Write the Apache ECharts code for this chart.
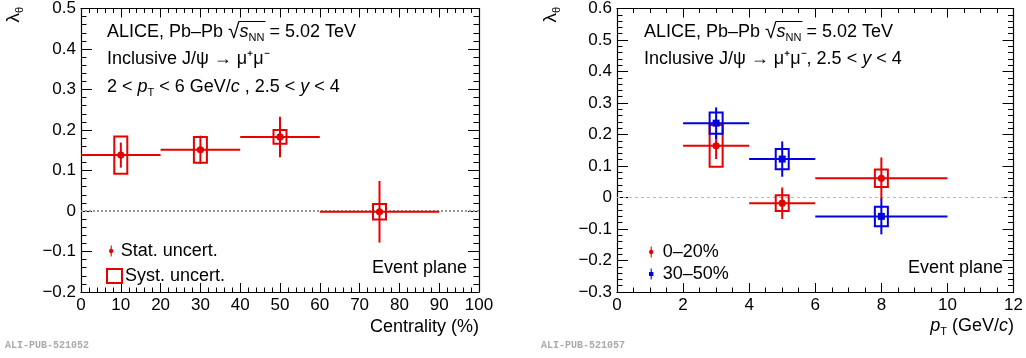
<!DOCTYPE html>
<html>
<head>
<meta charset="utf-8">
<script src="https://cdn.jsdelivr.net/npm/echarts@6/dist/echarts.min.js"></script>
<style>
  html, body { margin: 0; padding: 0; background: #fff; }
  #chart { width: 1026px; height: 358px; }
</style>
</head>
<body>
<div id="chart"></div>
<script>
// left panel: lambda_theta vs centrality
const centCenter = [10, 30, 50, 75];
const centLow = [0, 20, 40, 60];
const centHigh = [20, 40, 60, 90];
const centValue = [0.138, 0.151, 0.183, -0.002];
const centStat = [0.031, 0.035, 0.05, 0.076];
const centSyst = [0.046, 0.032, 0.017, 0.019];

// right panel: lambda_theta vs pT, two centrality classes
const ptCenter = [3, 5, 8];
const ptLow = [2, 4, 6];
const ptHigh = [4, 6, 10];
const cent020Value = [0.164, -0.018, 0.061];
const cent020Stat = [0.042, 0.05, 0.066];
const cent020Syst = [0.066, 0.025, 0.028];
const cent3050Value = [0.236, 0.122, -0.06];
const cent3050Stat = [0.05, 0.056, 0.057];
const cent3050Syst = [0.034, 0.032, 0.031];

const leftXTicks = { min: 0, max: 100, interval: 10 };
const leftYTicks = { min: -0.2, max: 0.5, interval: 0.1 };
const rightXTicks = { min: 0, max: 12, interval: 2 };
const rightYTicks = { min: -0.3, max: 0.6, interval: 0.1 };

const RED = '#e60000';
const BLUE = '#0000e0';
const FONT = '"Liberation Sans", Arial, sans-serif';
const TXT = 18;

function rows(xs, ys, lo, hi, st, sy) {
  return xs.map((x, i) => [x, ys[i], lo[i], hi[i], st[i], sy[i]]);
}

function fmtY(v) {
  if (Math.abs(v) < 1e-9) return '0';
  let s = Math.abs(v).toFixed(1);
  return (v < 0 ? '\u2212' : '') + s;
}

function makeRender(color, opts) {
  return function (params, api) {
    const x = api.value(0), y = api.value(1);
    const lo = api.value(2), hi = api.value(3);
    const st = api.value(4), sy = api.value(5);
    const c = api.coord([x, y]);
    const children = [];
    if (opts.syst) {
      const t = api.coord([x, y + sy]), b = api.coord([x, y - sy]);
      children.push({
        type: 'rect',
        shape: { x: c[0] - 6.5, y: t[1], width: 13, height: b[1] - t[1] },
        style: { fill: 'none', stroke: color, lineWidth: 2 }
      });
    }
    if (opts.stat) {
      const l = api.coord([lo, y]), r = api.coord([hi, y]);
      const t = api.coord([x, y + st]), b = api.coord([x, y - st]);
      children.push({
        type: 'line', shape: { x1: l[0], y1: c[1], x2: r[0], y2: c[1] },
        style: { stroke: color, lineWidth: 2 }
      });
      children.push({
        type: 'line', shape: { x1: c[0], y1: t[1], x2: c[0], y2: b[1] },
        style: { stroke: color, lineWidth: 2 }
      });
      if (opts.square) {
        children.push({
          type: 'rect', shape: { x: c[0] - 3.5, y: c[1] - 3.5, width: 7, height: 7 },
          style: { fill: color }
        });
      } else {
        children.push({
          type: 'circle', shape: { cx: c[0], cy: c[1], r: 3.6 },
          style: { fill: color }
        });
      }
    }
    return { type: 'group', children: children };
  };
}

function xAxes(grid, t) {
  const base = {
    gridIndex: grid, type: 'value', min: t.min, max: t.max, interval: t.interval,
    axisLine: { onZero: false, lineStyle: { color: '#000', width: 1.2 } },
    axisTick: { inside: true, length: 9, lineStyle: { color: '#000' } },
    minorTick: { show: true, splitNumber: grid === 0 ? 5 : 4, length: 4.5, lineStyle: { color: '#000' } },
    splitLine: { show: false },
    minorSplitLine: { show: false }
  };
  return [
    Object.assign({}, base, {
      position: 'bottom',
      axisLabel: { fontSize: 17, color: '#000', fontFamily: FONT, margin: 5 }
    }),
    Object.assign({}, base, { position: 'top', axisLabel: { show: false } })
  ];
}

function yAxes(grid, t) {
  const base = {
    gridIndex: grid, type: 'value', min: t.min, max: t.max, interval: t.interval,
    axisLine: { onZero: false, lineStyle: { color: '#000', width: 1.2 } },
    axisTick: { inside: true, length: 11, lineStyle: { color: '#000' } },
    minorTick: { show: true, splitNumber: 5, length: 5.5, lineStyle: { color: '#000' } },
    splitLine: { show: false },
    minorSplitLine: { show: false }
  };
  return [
    Object.assign({}, base, {
      position: 'left',
      axisLabel: { fontSize: 17, color: '#000', fontFamily: FONT, margin: 5, formatter: fmtY }
    }),
    Object.assign({}, base, { position: 'right', axisLabel: { show: false } })
  ];
}

// text width helper for the sqrt overline
const ctx = document.createElement('canvas').getContext('2d');
function textW(str, size, italic) {
  ctx.font = (italic ? 'italic ' : '') + size + 'px ' + FONT;
  return ctx.measureText(str).width;
}

const ROOT_SIZE = 21;
const rich = {
  i: { fontStyle: 'italic', fontSize: TXT, fontFamily: FONT, lineHeight: 22 },
  sub: { fontSize: 11, fontFamily: FONT, lineHeight: 11, verticalAlign: 'bottom' },
  r: { fontSize: ROOT_SIZE, fontFamily: FONT, lineHeight: 22 }
};

function label(x, y, text, align) {
  return {
    type: 'text', x: x, y: y,
    style: {
      text: text, rich: rich, fontSize: TXT, fontFamily: FONT, fill: '#000',
      align: align || 'left', verticalAlign: 'middle', lineHeight: 22
    }
  };
}

function sqrtLine(x0) {
  const pre = textW('ALICE, Pb\u2013Pb ', TXT) + textW('\u221a', ROOT_SIZE);
  const w = textW('s', TXT, true) + textW('NN', 11);
  return {
    type: 'line', shape: { x1: x0 + pre - 1, y1: 21.5, x2: x0 + pre + w + 1, y2: 21.5 },
    style: { stroke: '#000', lineWidth: 1 }
  };
}

const statIcon = 'path://M3,0 L5,0 L5,6.13 A4,4 0 0 1 5,13.87 L5,20 L3,20 L3,13.87 A4,4 0 0 1 3,6.13 Z';
const squareIcon = 'path://M3,0 L5,0 L5,6.5 L8,6.5 L8,13.5 L5,13.5 L5,20 L3,20 L3,13.5 L0,13.5 L0,6.5 L3,6.5 Z';

const legendText = { fontSize: TXT, fontFamily: FONT, color: '#000', padding: [0, 0, 0, 3] };

const chart = echarts.init(document.getElementById('chart'), null, { renderer: 'canvas' });

const option = {
  animation: false,
  backgroundColor: '#fff',
  grid: [
    { left: 81, right: 547, top: 7, bottom: 66 },
    { left: 617, right: 12, top: 7, bottom: 66 }
  ],
  xAxis: xAxes(0, leftXTicks).concat(xAxes(1, rightXTicks)),
  yAxis: yAxes(0, leftYTicks).concat(yAxes(1, rightYTicks)),
  legend: [
    {
      data: [{ name: 'Stat. uncert.', icon: statIcon }],
      left: 104, top: 237, itemWidth: 7, itemHeight: 11,
      textStyle: Object.assign({}, legendText, { padding: [0, 0, 0, 1] }), selectedMode: false
    },
    {
      data: [{ name: 'Syst. uncert.', icon: 'rect', itemStyle: { color: 'transparent', borderColor: RED, borderWidth: 2 } }],
      left: 101, top: 262, itemWidth: 15, itemHeight: 14,
      textStyle: Object.assign({}, legendText, { padding: [0, 0, 0, -2] }), selectedMode: false
    },
    {
      data: [{ name: '0\u201320%', icon: statIcon }],
      left: 644, top: 238, itemWidth: 7, itemHeight: 11,
      textStyle: Object.assign({}, legendText, { padding: [0, 0, 0, 3] }), selectedMode: false
    },
    {
      data: [{ name: '30\u201350%', icon: squareIcon }],
      left: 644, top: 260, itemWidth: 7, itemHeight: 11,
      textStyle: Object.assign({}, legendText, { padding: [0, 0, 0, 3] }), selectedMode: false
    }
  ],
  series: [
    {
      name: 'zero-left', type: 'line', xAxisIndex: 0, yAxisIndex: 0, z: 1, silent: true,
      data: [[leftXTicks.min, 0], [leftXTicks.max, 0]], symbol: 'none',
      lineStyle: { color: '#999', width: 2, type: [2, 2] }
    },
    {
      name: 'zero-right', type: 'line', xAxisIndex: 2, yAxisIndex: 2, z: 1, silent: true,
      data: [[rightXTicks.min, 0], [rightXTicks.max, 0]], symbol: 'none',
      lineStyle: { color: '#bbb', width: 1, type: [3, 3] }
    },
    {
      name: 'Syst. uncert.', type: 'custom', xAxisIndex: 0, yAxisIndex: 0, z: 3,
      itemStyle: { color: RED },
      renderItem: makeRender(RED, { syst: true }),
      encode: { x: 0, y: 1 },
      data: rows(centCenter, centValue, centLow, centHigh, centStat, centSyst)
    },
    {
      name: 'Stat. uncert.', type: 'custom', xAxisIndex: 0, yAxisIndex: 0, z: 4,
      itemStyle: { color: RED },
      renderItem: makeRender(RED, { stat: true }),
      encode: { x: 0, y: 1 },
      data: rows(centCenter, centValue, centLow, centHigh, centStat, centSyst)
    },
    {
      name: '0\u201320%', type: 'custom', xAxisIndex: 2, yAxisIndex: 2, z: 3,
      itemStyle: { color: RED },
      renderItem: makeRender(RED, { syst: true, stat: true }),
      encode: { x: 0, y: 1 },
      data: rows(ptCenter, cent020Value, ptLow, ptHigh, cent020Stat, cent020Syst)
    },
    {
      name: '30\u201350%', type: 'custom', xAxisIndex: 2, yAxisIndex: 2, z: 4,
      itemStyle: { color: BLUE },
      renderItem: makeRender(BLUE, { syst: true, stat: true, square: true }),
      encode: { x: 0, y: 1 },
      data: rows(ptCenter, cent3050Value, ptLow, ptHigh, cent3050Stat, cent3050Syst)
    }
  ],
  graphic: [
    label(107, 32, 'ALICE, Pb\u2013Pb {r|\u221a}{i|s}{sub|NN} = 5.02 TeV'),
    sqrtLine(107),
    label(107, 59, 'Inclusive J/\u03c8 \u2192 \u03bc\u207a\u03bc\u207b'),
    label(107, 87, '2 < {i|p}{sub|T} < 6 GeV/{i|c} , 2.5 < {i|y} < 4'),
    label(467, 268, 'Event plane', 'right'),
    label(479, 327, 'Centrality (%)', 'right'),
    label(644, 32, 'ALICE, Pb\u2013Pb {r|\u221a}{i|s}{sub|NN} = 5.02 TeV'),
    sqrtLine(644),
    label(644, 59, 'Inclusive J/\u03c8 \u2192 \u03bc\u207a\u03bc\u207b, 2.5 < {i|y} < 4'),
    label(1003, 268, 'Event plane', 'right'),
    label(1014, 326, '{i|p}{sub|T} (GeV/{i|c})', 'right'),
    {
      type: 'text', x: 14, y: 7, rotation: Math.PI / 2,
      style: {
        text: '\u03bb{sub|\u03b8}', fontSize: 19, fontFamily: FONT, fill: '#000',
        align: 'right', verticalAlign: 'middle', lineHeight: 22,
        rich: { sub: { fontSize: 11, fontFamily: FONT, lineHeight: 11, verticalAlign: 'bottom' } }
      }
    },
    {
      type: 'text', x: 551, y: 7, rotation: Math.PI / 2,
      style: {
        text: '\u03bb{sub|\u03b8}', fontSize: 19, fontFamily: FONT, fill: '#000',
        align: 'right', verticalAlign: 'middle', lineHeight: 22,
        rich: { sub: { fontSize: 11, fontFamily: FONT, lineHeight: 11, verticalAlign: 'bottom' } }
      }
    },
    {
      type: 'text', x: 5, y: 345,
      style: { text: 'ALI-PUB-521052', fontSize: 10, fontFamily: '"Liberation Mono", monospace', fontWeight: 'bold', fill: '#aaa', verticalAlign: 'middle' }
    },
    {
      type: 'text', x: 541, y: 345,
      style: { text: 'ALI-PUB-521057', fontSize: 10, fontFamily: '"Liberation Mono", monospace', fontWeight: 'bold', fill: '#aaa', verticalAlign: 'middle' }
    }
  ]
};

chart.setOption(option);
</script>
</body>
</html>
